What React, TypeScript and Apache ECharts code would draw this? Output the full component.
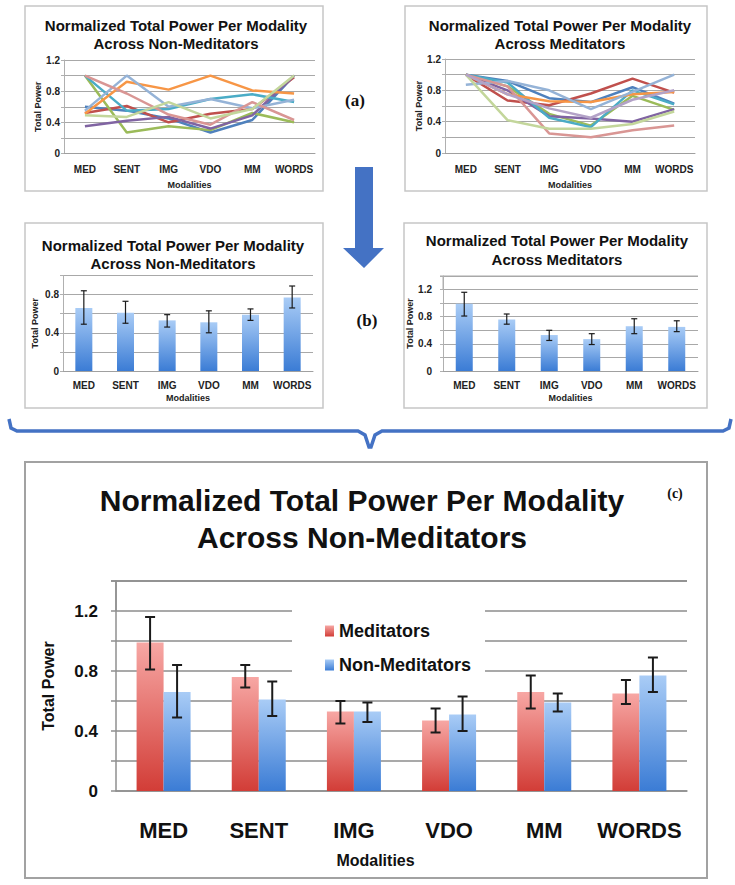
import React, { useEffect, useRef } from "react";
import * as echarts from "echarts";

const categories = ["MED", "SENT", "IMG", "VDO", "MM", "WORDS"];

// (a) individual subjects, Non-Meditators
const nonMedSubjectNames = ["NM1", "NM2", "NM3", "NM4", "NM5", "NM6", "NM7", "NM8", "NM9"];
const nonMedS1 = [0.6, 0.55, 0.45, 0.27, 0.43, 1.0];
const nonMedS2 = [0.52, 0.61, 0.4, 0.51, 0.57, 0.98];
const nonMedS3 = [1.0, 0.27, 0.35, 0.3, 0.52, 0.4];
const nonMedS4 = [0.35, 0.42, 0.47, 0.32, 0.49, 1.0];
const nonMedS5 = [1.0, 0.55, 0.57, 0.7, 0.76, 0.66];
const nonMedS6 = [0.51, 0.92, 0.82, 1.0, 0.81, 0.77];
const nonMedS7 = [0.55, 1.0, 0.6, 0.7, 0.58, 0.69];
const nonMedS8 = [1.0, 0.77, 0.5, 0.37, 0.66, 0.43];
const nonMedS9 = [0.49, 0.47, 0.66, 0.45, 0.57, 1.0];
const nonMedSubjects = [nonMedS1, nonMedS2, nonMedS3, nonMedS4, nonMedS5, nonMedS6, nonMedS7, nonMedS8, nonMedS9];

// (a) individual subjects, Meditators
const medSubjectNames = ["M1", "M2", "M3", "M4", "M5", "M6", "M7", "M8", "M9", "M10"];
const medS1 = [1.0, 0.92, 0.7, 0.65, 0.84, 0.63];
const medS2 = [1.0, 0.67, 0.61, 0.76, 0.95, 0.77];
const medS3 = [1.0, 0.85, 0.5, 0.35, 0.73, 0.55];
const medS4 = [1.0, 0.8, 0.47, 0.44, 0.4, 0.56];
const medS5 = [1.0, 0.9, 0.45, 0.33, 0.8, 0.62];
const medS6 = [1.0, 0.75, 0.66, 0.65, 0.75, 0.78];
const medS7 = [0.87, 0.92, 0.8, 0.56, 0.78, 1.0];
const medS8 = [1.0, 0.85, 0.25, 0.2, 0.29, 0.35];
const medS9 = [1.0, 0.42, 0.31, 0.31, 0.37, 0.53];
const medS10 = [1.0, 0.75, 0.57, 0.45, 0.68, 0.8];
const medSubjects = [medS1, medS2, medS3, medS4, medS5, medS6, medS7, medS8, medS9, medS10];

// (b)/(c) group means with error ranges
const nonMedMean = [0.66, 0.61, 0.53, 0.51, 0.59, 0.77];
const nonMedLow = [0.49, 0.5, 0.46, 0.4, 0.53, 0.66];
const nonMedHigh = [0.84, 0.73, 0.59, 0.63, 0.65, 0.89];
const medMean = [0.99, 0.76, 0.53, 0.47, 0.66, 0.65];
const medLow = [0.81, 0.69, 0.45, 0.39, 0.55, 0.58];
const medHigh = [1.16, 0.84, 0.6, 0.55, 0.77, 0.74];

const lineColors = ["#4F81BD", "#C0504D", "#9BBB59", "#8064A2", "#4BACC6", "#F79646", "#95B3D7", "#D99694", "#C3D69B", "#B3A2C7"];

const SANS = "'Liberation Sans', Arial, sans-serif";
const SERIF = "'Liberation Serif', 'Times New Roman', serif";

const GRIDS = [
  { left: 64, top: 60, width: 251, height: 93.5 },
  { left: 445, top: 59, width: 250, height: 94 },
  { left: 63, top: 275.5, width: 250, height: 95.5 },
  { left: 443, top: 276, width: 255, height: 95 },
  { left: 116, top: 581, width: 571, height: 210 },
];

const tickFmt = (v: number) => {
  const t = Math.round(v * 10);
  if (Math.abs(v * 10 - t) > 1e-4) return "";
  if (t % 4 !== 0) return "";
  return t === 0 ? "0" : (t / 10).toFixed(1);
};

const blueGrad = () =>
  new echarts.graphic.LinearGradient(0, 0, 0, 1, [
    { offset: 0, color: "#a9ccf6" },
    { offset: 1, color: "#3b7cd5" },
  ]);
const redGrad = () =>
  new echarts.graphic.LinearGradient(0, 0, 0, 1, [
    { offset: 0, color: "#f7a7a4" },
    { offset: 1, color: "#d23d37" },
  ]);

const makeErrorRender = (offsetPx: number, capHalf: number, lw: number) => (params: any, api: any) => {
  const idx = api.value(0);
  const lo = api.coord([idx, api.value(1)]);
  const hi = api.coord([idx, api.value(2)]);
  const x = lo[0] + offsetPx;
  const style = { stroke: "#1b1b1b", lineWidth: lw };
  return {
    type: "group",
    children: [
      { type: "line", shape: { x1: x, y1: lo[1], x2: x, y2: hi[1] }, style },
      { type: "line", shape: { x1: x - capHalf, y1: hi[1], x2: x + capHalf, y2: hi[1] }, style },
      { type: "line", shape: { x1: x - capHalf, y1: lo[1], x2: x + capHalf, y2: lo[1] }, style },
    ],
  };
};

const smallX = (gi: number, margin: number, nameGap: number) => ({
  type: "category",
  gridIndex: gi,
  data: categories,
  axisLine: { lineStyle: { color: "#a0a0a0", width: 1 } },
  axisTick: { length: 4, lineStyle: { color: "#a0a0a0" } },
  axisLabel: { interval: 0, fontSize: 10, fontWeight: "bold", color: "#222", margin, fontFamily: SANS },
  name: "Modalities",
  nameLocation: "middle",
  nameGap,
  nameTextStyle: { fontSize: 9, fontWeight: "bold", color: "#222", fontFamily: SANS },
});

const smallY = (gi: number, max: number, margin: number, nameGap: number) => ({
  type: "value",
  gridIndex: gi,
  min: 0,
  max,
  interval: 0.2,
  axisLine: { show: true, lineStyle: { color: "#b0b0b0" } },
  axisTick: { show: true, length: 3, lineStyle: { color: "#b0b0b0" } },
  splitLine: { show: true, lineStyle: { color: "#a8a8a8", width: 1 } },
  axisLabel: { formatter: tickFmt, fontSize: 10, fontWeight: "bold", color: "#222", margin, fontFamily: SANS },
  name: "Total Power",
  nameLocation: "middle",
  nameGap,
  nameRotate: 90,
  nameTextStyle: { fontSize: 9, fontWeight: "bold", color: "#222", fontFamily: SANS },
});

export default function App() {
  const ref = useRef<HTMLDivElement>(null);
  useEffect(() => {
    if (!ref.current) return;
    const chart = echarts.init(ref.current, null, { renderer: "svg" });

    const titleStyle = (size: number, lh: number) => ({
      fontSize: size,
      fontWeight: "bold",
      color: "#111",
      lineHeight: lh,
      fontFamily: SANS,
    });

    const series: any[] = [];
    nonMedSubjects.forEach((d, i) =>
      series.push({
        type: "line",
        name: nonMedSubjectNames[i],
        xAxisIndex: 0,
        yAxisIndex: 0,
        data: d,
        showSymbol: false,
        symbol: "none",
        lineStyle: { width: 2.5, color: lineColors[i] },
        itemStyle: { color: lineColors[i] },
      })
    );
    medSubjects.forEach((d, i) =>
      series.push({
        type: "line",
        name: medSubjectNames[i],
        xAxisIndex: 1,
        yAxisIndex: 1,
        data: d,
        showSymbol: false,
        symbol: "none",
        lineStyle: { width: 2.5, color: lineColors[i] },
        itemStyle: { color: lineColors[i] },
      })
    );
    series.push({
      type: "bar",
      name: "Non-Meditators (b)",
      xAxisIndex: 2,
      yAxisIndex: 2,
      data: nonMedMean,
      barWidth: 17,
      itemStyle: { color: blueGrad() },
    });
    series.push({
      type: "custom",
      name: "Non-Meditators (b) error",
      xAxisIndex: 2,
      yAxisIndex: 2,
      data: categories.map((_, i) => [i, nonMedLow[i], nonMedHigh[i]]),
      encode: { x: 0, y: [1, 2] },
      renderItem: makeErrorRender(0, 3, 1.2),
      z: 5,
    });
    series.push({
      type: "bar",
      name: "Meditators (b)",
      xAxisIndex: 3,
      yAxisIndex: 3,
      data: medMean,
      barWidth: 17,
      itemStyle: { color: blueGrad() },
    });
    series.push({
      type: "custom",
      name: "Meditators (b) error",
      xAxisIndex: 3,
      yAxisIndex: 3,
      data: categories.map((_, i) => [i, medLow[i], medHigh[i]]),
      encode: { x: 0, y: [1, 2] },
      renderItem: makeErrorRender(0, 3, 1.2),
      z: 5,
    });
    series.push({
      type: "bar",
      name: "Meditators",
      xAxisIndex: 4,
      yAxisIndex: 4,
      data: medMean,
      barWidth: 27,
      barGap: "0%",
      itemStyle: { color: redGrad() },
    });
    series.push({
      type: "bar",
      name: "Non-Meditators",
      xAxisIndex: 4,
      yAxisIndex: 4,
      data: nonMedMean,
      barWidth: 27,
      barGap: "0%",
      itemStyle: { color: blueGrad() },
    });
    series.push({
      type: "custom",
      name: "Meditators error",
      xAxisIndex: 4,
      yAxisIndex: 4,
      data: categories.map((_, i) => [i, medLow[i], medHigh[i]]),
      encode: { x: 0, y: [1, 2] },
      renderItem: makeErrorRender(-13.5, 5, 2),
      z: 5,
    });
    series.push({
      type: "custom",
      name: "Non-Meditators error",
      xAxisIndex: 4,
      yAxisIndex: 4,
      data: categories.map((_, i) => [i, nonMedLow[i], nonMedHigh[i]]),
      encode: { x: 0, y: [1, 2] },
      renderItem: makeErrorRender(13.5, 5, 2),
      z: 5,
    });

    const g3 = GRIDS[3];
    const g4 = GRIDS[4];
    const graphic: any[] = [
      { type: "rect", shape: { x: 25, y: 6, width: 298, height: 185 }, style: { fill: "none", stroke: "#c6c6c6", lineWidth: 1.5 }, z: 10 },
      { type: "rect", shape: { x: 405, y: 6, width: 302, height: 185 }, style: { fill: "none", stroke: "#c6c6c6", lineWidth: 1.5 }, z: 10 },
      { type: "rect", shape: { x: 25, y: 223, width: 298, height: 185 }, style: { fill: "none", stroke: "#c6c6c6", lineWidth: 1.5 }, z: 10 },
      { type: "rect", shape: { x: 404, y: 223, width: 303, height: 185 }, style: { fill: "none", stroke: "#c6c6c6", lineWidth: 1.5 }, z: 10 },
      { type: "rect", shape: { x: 25, y: 462, width: 682, height: 416 }, style: { fill: "none", stroke: "#a2a2a2", lineWidth: 2 }, z: 10 },
      // legend background breaking the gridlines
      { type: "rect", shape: { x: 292, y: 598, width: 193, height: 88 }, style: { fill: "#ffffff" }, z: 1 },
      // top edge (value 1.4) of the (b)-right and (c) plot areas
      { type: "line", shape: { x1: g3.left - 3, y1: g3.top, x2: g3.left + g3.width, y2: g3.top }, style: { stroke: "#a8a8a8", lineWidth: 1 }, z: 20 },
      { type: "line", shape: { x1: g3.left, y1: g3.top, x2: g3.left, y2: g3.top + 14 }, style: { stroke: "#b0b0b0", lineWidth: 1 }, z: 20 },
      { type: "line", shape: { x1: g4.left - 5, y1: g4.top, x2: g4.left + g4.width, y2: g4.top }, style: { stroke: "#8c8c8c", lineWidth: 1.5 }, z: 20 },
      { type: "line", shape: { x1: g4.left, y1: g4.top, x2: g4.left, y2: g4.top + 30 }, style: { stroke: "#8f8f8f", lineWidth: 1.5 }, z: 20 },
      {
        type: "polygon",
        shape: { points: [[355, 167], [373, 167], [373, 248], [384, 248], [364, 268], [343, 248], [355, 248]] },
        style: { fill: "#4472c4" },
        z: 10,
      },
      {
        type: "polyline",
        shape: {
          points: [[9, 419], [11, 428], [17, 431], [358, 431], [365, 435], [369, 447], [371, 447], [375, 435], [382, 431], [723, 431], [729, 428], [731, 419]],
        },
        style: { stroke: "#4472c4", lineWidth: 3.5, fill: "none" },
        z: 10,
      },
      { type: "text", x: 355, y: 100, style: { text: "(a)", font: `bold 17px ${SERIF}`, fill: "#111", textAlign: "center", textVerticalAlign: "middle" }, z: 10 },
      { type: "text", x: 367, y: 320, style: { text: "(b)", font: `bold 17px ${SERIF}`, fill: "#111", textAlign: "center", textVerticalAlign: "middle" }, z: 10 },
      { type: "text", x: 675, y: 493, style: { text: "(c)", font: `bold 14px ${SERIF}`, fill: "#111", textAlign: "center", textVerticalAlign: "middle" }, z: 10 },
    ];

    const mkTitle = (text: string, left: number, top: number, size: number, lh: number) => ({
      text,
      left,
      top,
      textAlign: "center",
      padding: 0,
      textStyle: titleStyle(size, lh),
    });

    const option: any = {
      animation: false,
      backgroundColor: "#ffffff",
      title: [
        mkTitle("Normalized Total Power Per Modality\nAcross Non-Meditators", 176, 16, 15, 18),
        mkTitle("Normalized Total Power Per Modality\nAcross Meditators", 560, 16, 15, 18),
        mkTitle("Normalized Total Power Per Modality\nAcross Non-Meditators", 173, 236, 15, 18),
        mkTitle("Normalized Total Power Per Modality\nAcross Meditators", 557, 231, 15, 19),
        mkTitle("Normalized Total Power Per Modality\nAcross Non-Meditators", 362, 482, 30, 37),
      ],
      legend: {
        data: ["Meditators", "Non-Meditators"],
        orient: "vertical",
        left: 320,
        top: 617,
        itemWidth: 9,
        itemHeight: 11,
        itemGap: 16,
        icon: "rect",
        textStyle: { fontSize: 18, fontWeight: "bold", color: "#111", fontFamily: SANS },
        selectedMode: false,
      },
      grid: GRIDS,
      xAxis: [
        smallX(0, 11, 27),
        smallX(1, 11, 27),
        smallX(2, 9, 22),
        smallX(3, 9, 22),
        {
          type: "category",
          gridIndex: 4,
          data: categories,
          axisLine: { lineStyle: { color: "#8f8f8f", width: 1.5 } },
          axisTick: { length: 6, lineStyle: { color: "#8f8f8f", width: 1.5 } },
          axisLabel: { interval: 0, fontSize: 22, fontWeight: "bold", color: "#111", margin: 28, fontFamily: SANS },
          name: "Modalities",
          nameLocation: "middle",
          nameGap: 61,
          nameTextStyle: { fontSize: 16, fontWeight: "bold", color: "#111", fontFamily: SANS, padding: [0, 52, 0, 0] },
        },
      ],
      yAxis: [
        smallY(0, 1.2, 4, 22),
        smallY(1, 1.2, 4, 22),
        smallY(2, 1.0, 4, 24),
        smallY(3, 1.4, 11, 24),
        {
          type: "value",
          gridIndex: 4,
          min: 0,
          max: 1.4,
          interval: 0.2,
          axisLine: { show: true, lineStyle: { color: "#8f8f8f", width: 1.5 } },
          axisTick: { show: true, length: 5, lineStyle: { color: "#8f8f8f", width: 1.5 } },
          splitLine: { show: true, lineStyle: { color: "#8c8c8c", width: 1.5 } },
          axisLabel: { formatter: tickFmt, fontSize: 17, fontWeight: "bold", color: "#111", margin: 18, fontFamily: SANS },
          name: "Total Power",
          nameLocation: "middle",
          nameGap: 60,
          nameRotate: 90,
          nameTextStyle: { fontSize: 16, fontWeight: "bold", color: "#111", fontFamily: SANS },
        },
      ],
      graphic,
      series,
    };
    chart.setOption(option);
    return () => chart.dispose();
  }, []);
  return <div ref={ref} style={{ position: "absolute", left: 0, top: 0, width: 735, height: 885, background: "#fff" }} />;
}
